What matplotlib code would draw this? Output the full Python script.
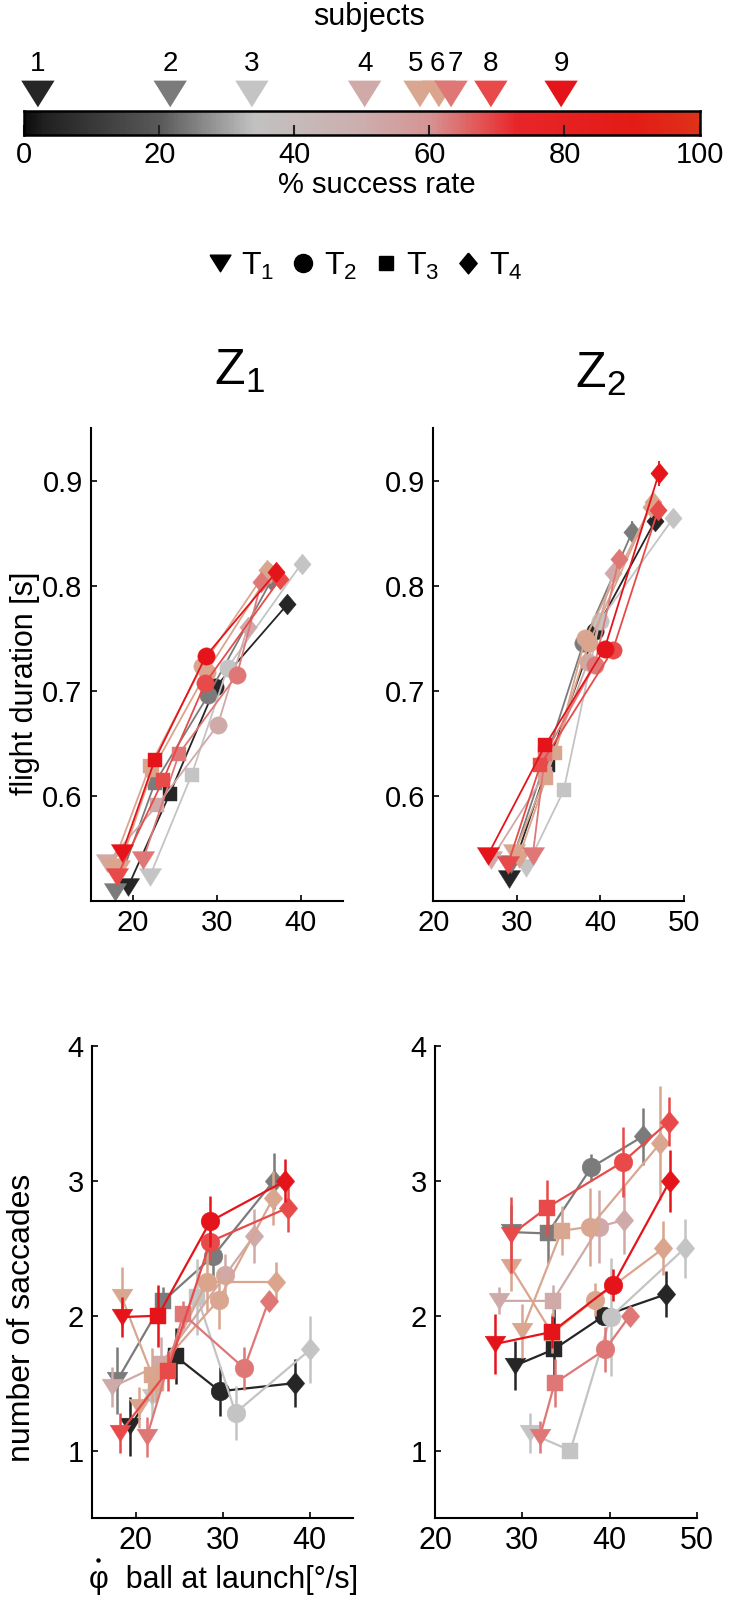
import numpy as np
import matplotlib
matplotlib.use('Agg')
import matplotlib.pyplot as plt
from matplotlib.colors import LinearSegmentedColormap
from matplotlib.lines import Line2D

plt.rcParams['font.family'] = ['Liberation Sans', 'DejaVu Sans']
plt.rcParams['mathtext.fontset'] = 'custom'
plt.rcParams['mathtext.rm'] = 'Liberation Sans'
plt.rcParams['mathtext.default'] = 'regular'
NARROW = ['Liberation Sans Narrow', 'Liberation Sans', 'DejaVu Sans']

# subjects, success rate and colours
subject_labels = ['1', '2', '3', '4', '5', '6', '7', '8', '9']
success_rate = [2, 21.6, 33.7, 50.4, 58.6, 61.4, 63.2, 69.1, 79.5]
subject_colors = ['#262626', '#7b7b7b', '#c4c4c4', '#cfaaa9', '#d9a68f',
                  '#dba48c', '#df7777', '#e84a4a', '#e5141b']
cond_labels = ['T$_1$', 'T$_2$', 'T$_3$', 'T$_4$']

# rows: T1, T2, T3, T4 ; columns: subjects 1..9
# flight duration, Z1
fd1_x = [[19.4, 17.9, 22.0, 16.9, 17.5, 18.3, 21.2, 18.1, 18.7],
         [29.8, 29.0, 31.3, 30.1, 28.2, 28.8, 32.4, 28.6, 28.7],
         [24.4, 22.6, 27.0, 22.9, 22.0, 22.3, 25.5, 23.6, 22.6],
         [38.4, 36.5, 40.1, 33.7, 36.0, 36.3, 35.3, 37.5, 37.1]]
fd1_y = [[0.513, 0.508, 0.523, 0.536, 0.532, 0.530, 0.539, 0.523, 0.545],
         [0.703, 0.696, 0.722, 0.667, 0.723, 0.718, 0.715, 0.707, 0.733],
         [0.602, 0.612, 0.620, 0.591, 0.628, 0.624, 0.640, 0.615, 0.634],
         [0.782, 0.805, 0.821, 0.761, 0.815, 0.812, 0.803, 0.806, 0.813]]
fd1_e = [[0.005, 0.006, 0.005, 0.004, 0.005, 0.005, 0.005, 0.006, 0.005],
         [0.007, 0.006, 0.006, 0.006, 0.006, 0.006, 0.007, 0.006, 0.007],
         [0.006, 0.006, 0.005, 0.006, 0.006, 0.005, 0.006, 0.006, 0.006],
         [0.007, 0.008, 0.006, 0.007, 0.007, 0.006, 0.007, 0.008, 0.008]]

# flight duration, Z2
fd2_x = [[29.1, 29.3, 31.1, 26.9, 29.7, 30.2, 31.9, 28.9, 26.5],
         [39.4, 37.95, 39.9, 38.5, 38.2, 38.6, 39.3, 41.5, 40.5],
         [33.7, 33.3, 35.6, 33.4, 34.6, 33.5, 33.4, 32.8, 33.4],
         [46.5, 43.8, 48.7, 41.5, 46.3, 46.0, 42.2, 46.9, 47.0]]
fd2_y = [[0.521, 0.535, 0.531, 0.539, 0.545, 0.540, 0.543, 0.534, 0.543],
         [0.757, 0.745, 0.766, 0.727, 0.750, 0.745, 0.724, 0.739, 0.740],
         [0.629, 0.630, 0.605, 0.621, 0.641, 0.617, 0.640, 0.629, 0.648],
         [0.861, 0.851, 0.864, 0.812, 0.880, 0.875, 0.825, 0.872, 0.907]]
fd2_e = [[0.006, 0.005, 0.005, 0.005, 0.006, 0.005, 0.005, 0.006, 0.006],
         [0.007, 0.006, 0.006, 0.006, 0.007, 0.006, 0.006, 0.007, 0.007],
         [0.010, 0.006, 0.005, 0.006, 0.006, 0.005, 0.006, 0.006, 0.006],
         [0.008, 0.010, 0.006, 0.007, 0.008, 0.007, 0.007, 0.008, 0.012]]

# number of saccades, Z1
ns1_x = [[19.4, 17.9, 21.9, 17.3, 18.4, 20.4, 21.3, 18.2, 18.5],
         [29.7, 28.9, 31.5, 30.3, 29.6, 28.2, 32.5, 28.6, 28.6],
         [24.6, 23.2, 27.1, 22.9, 21.9, 22.4, 25.5, 23.7, 22.6],
         [38.3, 35.9, 40.1, 33.6, 35.8, 36.2, 35.3, 37.5, 37.2]]
ns1_y = [[1.18, 1.52, 1.40, 1.47, 2.14, 1.32, 1.10, 1.13, 1.99],
         [1.44, 2.44, 1.28, 2.30, 2.12, 2.25, 1.61, 2.55, 2.70],
         [1.70, 2.11, 2.14, 1.64, 1.56, 1.50, 2.01, 1.59, 2.00],
         [1.50, 3.00, 1.75, 2.59, 2.87, 2.25, 2.11, 2.80, 3.00]]
ns1_e = [[0.22, 0.25, 0.15, 0.15, 0.22, 0.15, 0.15, 0.15, 0.15],
         [0.18, 0.15, 0.20, 0.16, 0.22, 0.22, 0.16, 0.14, 0.19],
         [0.21, 0.10, 0.28, 0.20, 0.20, 0.15, 0.10, 0.15, 0.23],
         [0.18, 0.21, 0.25, 0.20, 0.20, 0.15, 0.05, 0.18, 0.16]]

# number of saccades, Z2
ns2_x = [[29.15, 28.7, 30.9, 27.35, 30.0, 28.7, 32.0, 28.7, 26.85],
         [39.35, 37.9, 40.1, 38.8, 37.8, 38.3, 39.5, 41.5, 40.4],
         [33.6, 32.9, 35.5, 33.5, 34.5, 33.4, 33.7, 32.8, 33.4],
         [46.5, 43.8, 48.6, 41.65, 45.8, 46.15, 42.3, 46.8, 46.9]]
ns2_y = [[1.63, 2.62, 1.13, 2.11, 1.89, 2.36, 1.10, 2.60, 1.79],
         [2.00, 3.10, 1.99, 2.66, 2.66, 2.12, 1.75, 3.14, 2.23],
         [1.75, 2.61, 1.00, 2.11, 2.63, 1.87, 1.50, 2.80, 1.88],
         [2.16, 3.33, 2.50, 2.71, 3.28, 2.50, 2.00, 3.44, 3.00]]
ns2_e = [[0.18, 0.20, 0.15, 0.10, 0.20, 0.18, 0.12, 0.28, 0.22],
         [0.05, 0.10, 0.44, 0.27, 0.29, 0.12, 0.17, 0.26, 0.12],
         [0.30, 0.22, 0.05, 0.12, 0.18, 0.15, 0.18, 0.21, 0.12],
         [0.17, 0.21, 0.22, 0.25, 0.42, 0.20, 0.05, 0.18, 0.23]]

# lines join the conditions in order of ball speed
line_order = [0, 2, 1, 3]

# markers
tri_m = [(-1, 0.8), (1, 0.8), (0, -0.8), (-1, 0.8)]
dia_m = [(0, 1.2), (1, 0), (0, -1.2), (-1, 0), (0, 1.2)]
markers = [tri_m, 'o', 's', dia_m]

# the crowded labels 5, 6, 7 are spread a little (points)
label_nudge = [0, 0, 0, 0, -3, -1, 3, 0, 0]

W, H = 736, 1599


def box(x0, y0, x1, y1):
    return [x0 / W, 1 - y1 / H, (x1 - x0) / W, (y1 - y0) / H]


def draw_panel(ax, xs, ys, errs, sizes, lw, elw):
    for s in range(9):
        c = subject_colors[s]
        z = 2 + s * 0.1
        ax.plot([xs[k][s] for k in line_order], [ys[k][s] for k in line_order],
                color=c, lw=lw, zorder=z)
        for k in range(4):
            ax.errorbar(xs[k][s], ys[k][s], yerr=errs[k][s], fmt='none',
                        ecolor=c, elinewidth=elw, capsize=0, zorder=z + 0.01)
            ax.plot(xs[k][s], ys[k][s], ls='none', marker=markers[k],
                    ms=sizes[k], color=c, mec=c, mew=0.3, zorder=z + 0.02)


def style(ax):
    for side in ['top', 'right']:
        ax.spines[side].set_visible(False)
    for side in ['left', 'bottom']:
        ax.spines[side].set_linewidth(1.5)
    ax.tick_params(direction='in', length=4, width=1.2, labelsize=21, pad=6)


fig = plt.figure(figsize=(7.36, 15.99), dpi=100)

# ---- colour bar of success rate ----
cmap = LinearSegmentedColormap.from_list('succ', [
    (0.0, '#0e0e0e'), (0.03, '#222222'), (0.2, '#5a5a5a'), (0.34, '#c2c2c2'),
    (0.5, '#cdaeae'), (0.6, '#d69494'), (0.67, '#e25a5a'), (0.73, '#e8262a'),
    (0.9, '#e41b16'), (1.0, '#de321a')])
ax_cb = fig.add_axes(box(24.4, 111, 699.5, 135))
ax_cb.imshow(np.linspace(0, 100, 400)[None, :], aspect='auto', cmap=cmap,
             extent=[0, 100, 0, 1])
ax_cb.set_xlim(0, 100)
ax_cb.set_ylim(0, 1)
ax_cb.set_yticks([])
ax_cb.set_xticks([0, 20, 40, 60, 80, 100])
ax_cb.tick_params(axis='x', direction='in', length=7, width=1.5, pad=4,
                  colors='#222222', labelcolor='black')
for lab in ax_cb.get_xticklabels():
    lab.set_fontfamily(NARROW)
    lab.set_fontsize(21)
for sp in ax_cb.spines.values():
    sp.set_linewidth(1.8)
ax_cb.scatter(success_rate, np.full(len(success_rate), 1.71), marker=tri_m,
              s=24 ** 2, c=subject_colors, transform=ax_cb.get_xaxis_transform(),
              clip_on=False, linewidths=0)
for r, lab, dx in zip(success_rate, subject_labels, label_nudge):
    ax_cb.annotate(lab, (r, 2.96), xycoords=ax_cb.get_xaxis_transform(),
                   xytext=(dx, 0), textcoords='offset points',
                   ha='center', va='center', fontsize=20, family=NARROW)
fig.text(369 / W, 1 - 17 / H, 'subjects', ha='center', va='center',
         fontsize=22, family=NARROW)
fig.text(377 / W, 1 - 185 / H, '% success rate', ha='center', va='center',
         fontsize=21, family=NARROW)

# ---- legend of conditions ----
handles = [Line2D([], [], ls='none', marker=m, ms=ms, color='black')
           for m, ms in zip(markers, [15, 13, 10.5, 15])]
fig.legend(handles, cond_labels, loc='center', bbox_to_anchor=(365 / W, 1 - 266 / H),
           ncol=4, frameon=False, handlelength=0.8, handletextpad=0.25,
           columnspacing=0.5, prop={'family': NARROW, 'size': 23})

# ---- panels ----
ax_fd1 = fig.add_axes(box(91, 428, 342.7, 900.7))
ax_fd2 = fig.add_axes(box(433.3, 428, 684, 900.7))
ax_ns1 = fig.add_axes(box(92, 1046, 353, 1518))
ax_ns2 = fig.add_axes(box(435, 1046, 697, 1518))

draw_panel(ax_fd1, fd1_x, fd1_y, fd1_e, [16, 12.5, 10, 15], 1.3, 1.3)
draw_panel(ax_fd2, fd2_x, fd2_y, fd2_e, [16, 12.5, 10, 15], 1.3, 1.3)
draw_panel(ax_ns1, ns1_x, ns1_y, ns1_e, [15, 13.5, 11, 16], 1.6, 1.8)
draw_panel(ax_ns2, ns2_x, ns2_y, ns2_e, [15, 13.5, 11, 16], 1.6, 1.8)

for ax in [ax_fd1, ax_fd2]:
    ax.set_ylim(0.5, 0.95)
    ax.set_yticks([0.6, 0.7, 0.8, 0.9])
    ax.set_yticklabels(['0.6', '0.7', '0.8', '0.9'])
for ax in [ax_ns1, ax_ns2]:
    ax.set_ylim(0.5, 4)
    ax.set_yticks([1, 2, 3, 4])
for ax in [ax_fd1, ax_ns1]:
    ax.set_xlim(15, 45)
    ax.set_xticks([20, 30, 40])
for ax in [ax_fd2, ax_ns2]:
    ax.set_xlim(20, 50)
    ax.set_xticks([20, 30, 40, 50])
for ax in [ax_fd1, ax_fd2, ax_ns1, ax_ns2]:
    style(ax)
for ax in [ax_ns1, ax_ns2]:
    for lab in ax.get_xticklabels():
        lab.set_fontfamily(NARROW)
        lab.set_fontsize(22)

fig.text(239 / W, 1 - 371 / H, 'Z$_1$', ha='center', va='center', fontsize=36)
fig.text(600 / W, 1 - 374 / H, 'Z$_2$', ha='center', va='center', fontsize=36)
fig.text(25 / W, 1 - 683 / H, 'flight duration [s]', rotation=90,
         ha='center', va='center', fontsize=22)
fig.text(22 / W, 1 - 1318 / H, 'number of saccades', rotation=90,
         ha='center', va='center', fontsize=23)
fig.text(89 / W, 1 - 1580 / H, 'φ  ball at launch[°/s]', ha='left',
         va='center', fontsize=22, family=NARROW)
# time-derivative dot over phi
fig.add_artist(Line2D([98 / W], [1 - 1560 / H], marker='o', ms=2.2,
                      color='black', transform=fig.transFigure))

fig.savefig('out.png', dpi=100)
